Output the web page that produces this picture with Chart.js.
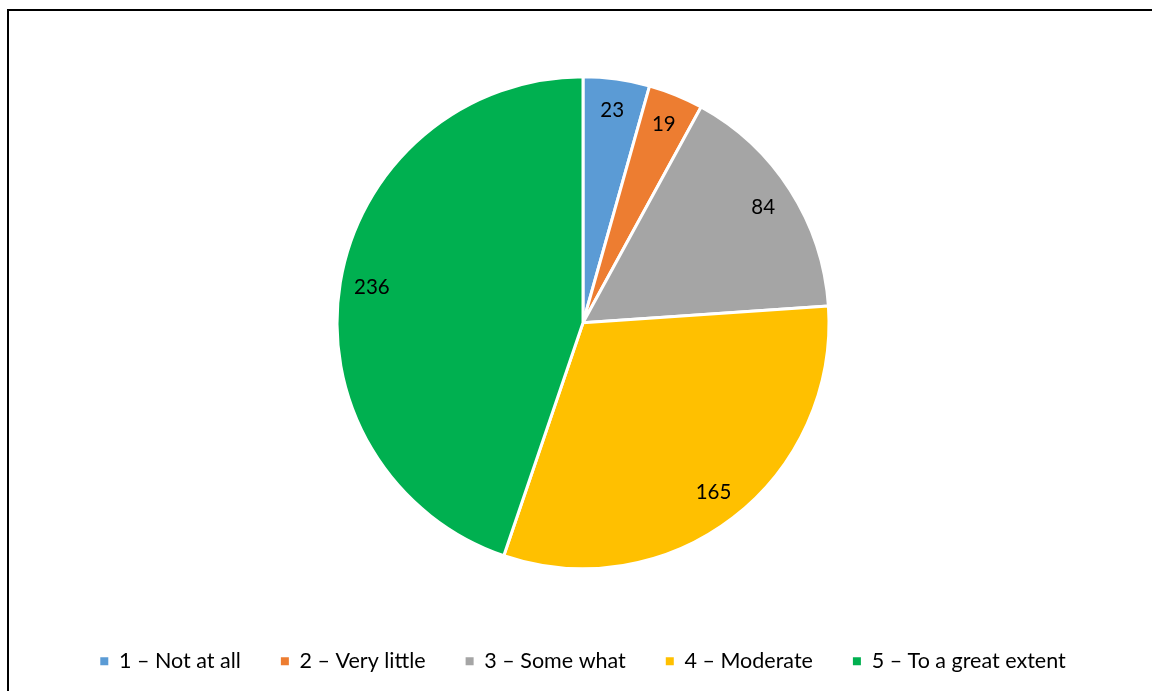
<!DOCTYPE html>
<html lang="en">
<head>
    <meta charset="UTF-8">
    <title>Pie chart</title>
    <script src="https://cdn.jsdelivr.net/npm/chart.js"></script>
    <style>
        html, body { margin: 0; padding: 0; background: #fff; overflow: hidden; }
        #frame { position: absolute; left: 7px; top: 9px; width: 1200px; height: 760px; border-left: 2px solid #000; border-top: 2px solid #000; }
        #wrap { position: absolute; left: 0; top: 0; width: 1152px; height: 691px; }
    </style>
</head>
<body>
    <div id="frame"></div>
    <div id="wrap"><canvas id="pieChart" width="1152" height="691"></canvas></div>

    <script>
        const labels = ['1 – Not at all', '2 – Very little', '3 – Some what', '4 – Moderate', '5 – To a great extent'];
        const counts = [23, 19, 84, 165, 236];
        const colors = ['#5B9BD5', '#ED7D31', '#A5A5A5', '#FFC000', '#00B050'];

        // draws the value of each slice inside it, near the rim
        const valueLabels = {
            id: 'valueLabels',
            afterDatasetsDraw(chart) {
                const ctx = chart.ctx;
                const meta = chart.getDatasetMeta(0);
                ctx.save();
                ctx.font = '20.5px Lato, "Liberation Sans", sans-serif';
                ctx.fillStyle = '#000';
                ctx.textAlign = 'center';
                ctx.textBaseline = 'middle';
                meta.data.forEach((arc, i) => {
                    const mid = (arc.startAngle + arc.endAngle) / 2;
                    const r = arc.outerRadius * 0.87;
                    ctx.fillText(String(counts[i]), arc.x + Math.cos(mid) * r, arc.y + Math.sin(mid) * r);
                });
                ctx.restore();
            }
        };

        new Chart(document.getElementById('pieChart').getContext('2d'), {
            type: 'pie',
            data: {
                labels: labels,
                datasets: [{
                    data: counts,
                    backgroundColor: colors,
                    borderColor: '#fff',
                    borderWidth: 3,
                    radius: 246
                }]
            },
            options: {
                responsive: false,
                animation: false,
                layout: { padding: { top: 35, left: 14, right: 0, bottom: 9 } },
                plugins: {
                    tooltip: { enabled: false },
                    legend: {
                        position: 'bottom',
                        labels: {
                            color: '#000',
                            font: { family: 'Lato, "Liberation Sans", sans-serif', size: 21.5 },
                            boxWidth: 8,
                            boxHeight: 8,
                            padding: 40,
                            generateLabels(chart) {
                                const items = Chart.overrides.pie.plugins.legend.labels.generateLabels(chart);
                                items.forEach(it => { it.lineWidth = 0; });
                                return items;
                            }
                        }
                    }
                }
            },
            plugins: [valueLabels]
        });
    </script>
</body>
</html>
